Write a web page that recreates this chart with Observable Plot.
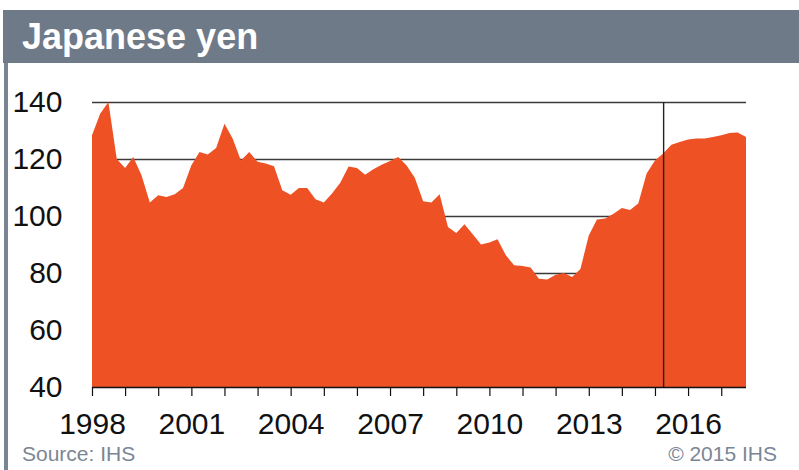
<!DOCTYPE html>
<html>
<head>
<meta charset="utf-8">
<script src="https://cdn.jsdelivr.net/npm/d3@7"></script>
<script src="https://cdn.jsdelivr.net/npm/@observablehq/plot@0.6"></script>
<style>
  html, body { margin: 0; padding: 0; background: #fff; }
  body { width: 799px; height: 470px; overflow: hidden; position: relative; font-family: "Liberation Sans", Arial, sans-serif; }
  #titlebar { position: absolute; left: 3px; top: 10px; width: 796px; height: 53px; background: #6f7a88; }
  #titlebar span { position: absolute; left: 19px; top: 7px; color: #fff; font-weight: bold; font-size: 36px; line-height: 40px; }
  #leftborder { position: absolute; left: 4px; top: 63px; width: 4px; height: 407px; background: #7a8594; }
  #chart { position: absolute; left: 0; top: 63px; }
  .foot { position: absolute; top: 443px; color: #7b8695; font-size: 21px; line-height: 22px; }
  #src { left: 22px; }
  #copy { right: 22px; }
</style>
</head>
<body>
<div id="titlebar"><span>Japanese yen</span></div>
<div id="leftborder"></div>
<div id="chart"></div>
<div class="foot" id="src">Source: IHS</div>
<div class="foot" id="copy">© 2015 IHS</div>
<script>
// Quarterly JPY per USD, 1998Q1 .. 2017Q4 (forecast from 2015Q2)
const startYear = 1998;
const yenValues = [
  128.3, 135.9, 140.0, 120.0,
  116.8, 120.7, 114.3, 104.7,
  107.3, 106.7, 107.6, 109.8,
  117.8, 122.5, 121.6, 123.9,
  132.4, 127.2, 119.5, 122.5,
  119.0, 118.4, 117.5, 109.0,
  107.5, 109.8, 109.8, 105.9,
  104.7, 107.9, 111.7, 117.4,
  116.8, 114.5, 116.4, 118.0,
  119.3, 120.7, 117.8, 113.4,
  105.2, 104.7, 107.6, 96.1,
  94.0, 97.1, 93.6, 90.0,
  90.7, 91.8, 86.2, 82.7,
  82.5, 81.9, 78.0, 77.7,
  79.4, 80.0, 78.6, 81.4,
  93.2, 98.8, 99.1, 100.8,
  102.8, 102.1, 104.4, 114.9,
  119.5, 121.9, 125.0, 126.0,
  126.8, 127.2, 127.2, 127.7,
  128.3, 129.1, 129.3, 127.7
];
const yTicks = [40, 60, 80, 100, 120, 140];
const gridValues = [60, 80, 100, 120, 140];
const labelYears = [1998, 2001, 2004, 2007, 2010, 2013, 2016];
const minorYears = [1998, 1999, 2000, 2001, 2002, 2003, 2004, 2005, 2006, 2007, 2008, 2009, 2010, 2011, 2012, 2013, 2014, 2015, 2016, 2017];
const forecastStart = [2015, 3]; // year, month (April)

const data = yenValues.map((v, i) => ({
  date: new Date(Date.UTC(startYear + Math.floor(i / 4), (i % 4) * 3, 1)),
  value: v
}));
const yd = y => new Date(Date.UTC(y, 0, 1));

const chart = Plot.plot({
  width: 799,
  height: 407,
  marginLeft: 92,
  marginRight: 53,
  marginTop: 39,
  marginBottom: 83,
  style: { fontFamily: "'Liberation Sans', Arial, sans-serif", fontSize: "30px", color: "#111", background: "transparent" },
  x: { type: "utc", domain: [data[0].date, data[data.length - 1].date], label: null },
  y: { domain: [40, 140], label: null },
  marks: [
    Plot.ruleY(gridValues, { stroke: "#3a3a3a", strokeWidth: 1.3 }),
    Plot.areaY(data, { x: "date", y1: 40, y2: "value", fill: "#ee5124" }),
    Plot.ruleX([new Date(Date.UTC(forecastStart[0], forecastStart[1], 1))], { y1: 40, y2: 140, stroke: "#222", strokeWidth: 1.4 }),
    Plot.ruleY([40], { stroke: "#111", strokeWidth: 1.5 }),
    Plot.axisX({ ticks: minorYears.map(yd), tickSize: 9, tickFormat: () => "", label: null, stroke: "#111", strokeWidth: 1.2 }),
    Plot.axisX({ ticks: labelYears.map(yd), tickSize: 0, tickPadding: 25, tickFormat: d3.utcFormat("%Y"), label: null, fontSize: 30, fill: "#111" }),
    Plot.axisY({ ticks: yTicks, tickSize: 0, tickPadding: 30, label: null, fontSize: 30, fill: "#111" })
  ]
});
document.getElementById("chart").appendChild(chart);
</script>
</body>
</html>
